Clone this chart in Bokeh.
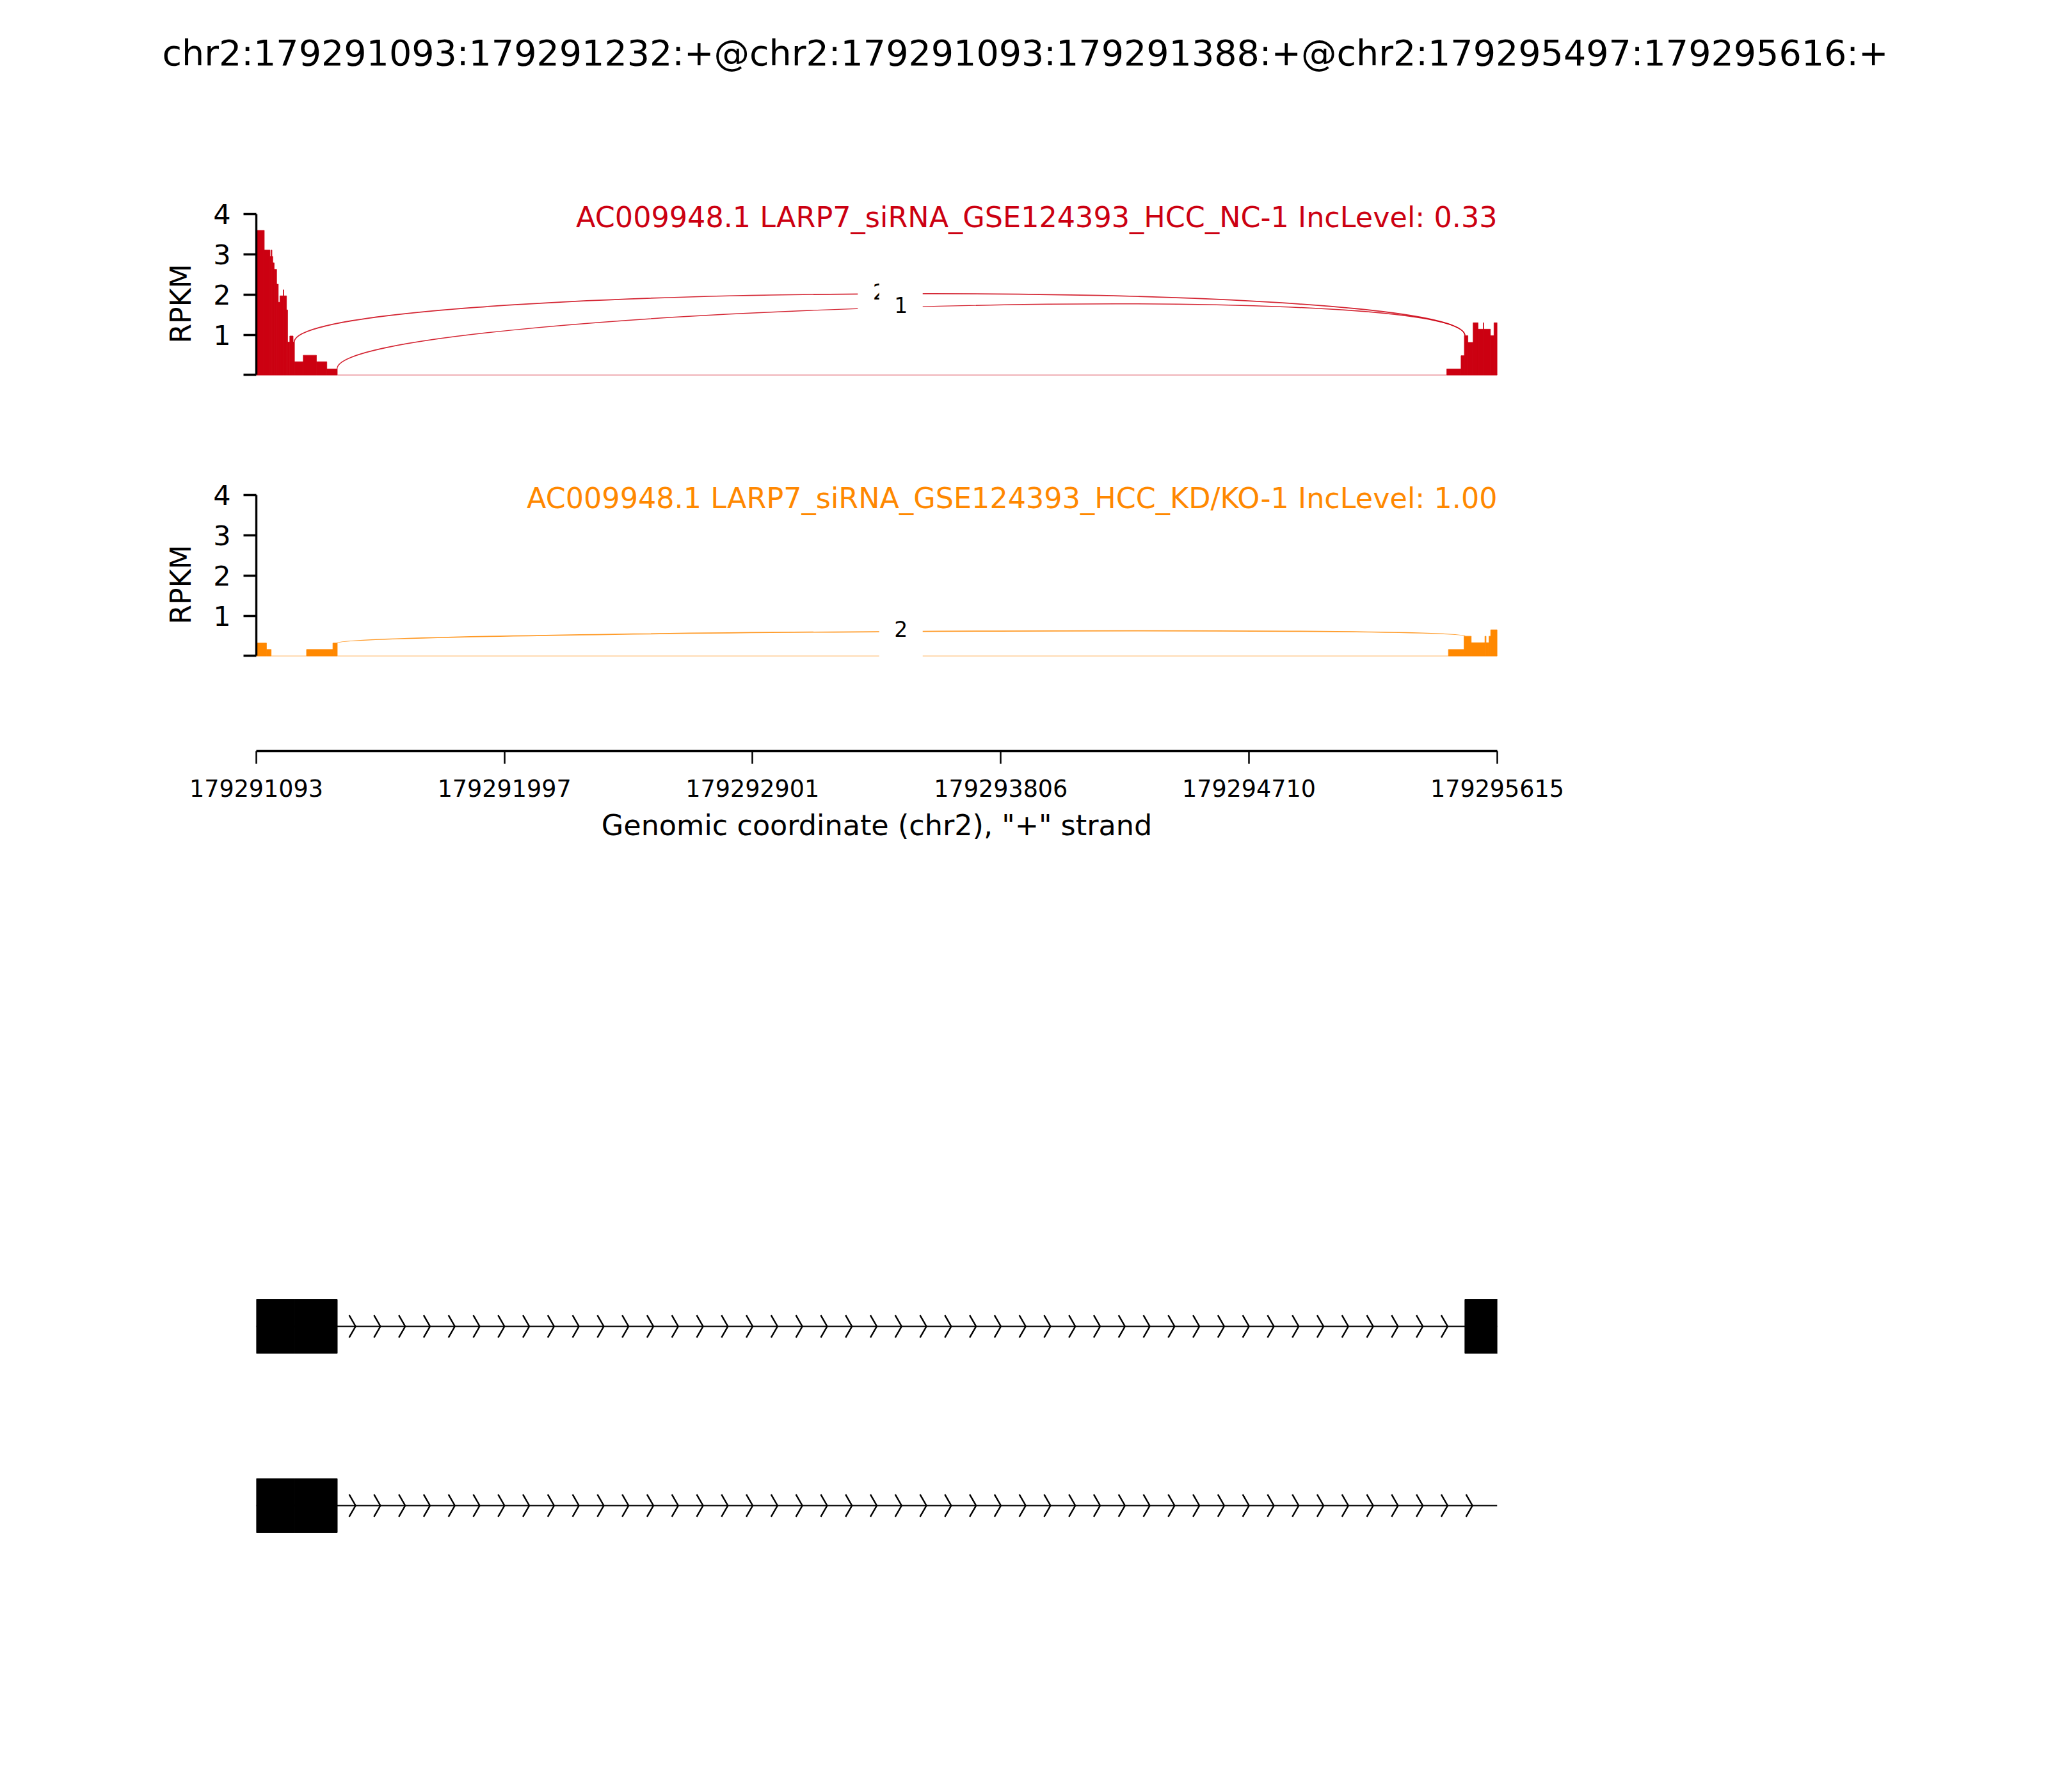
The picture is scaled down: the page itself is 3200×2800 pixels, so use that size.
import numpy as np
from bokeh.plotting import figure
from bokeh.models import Range1d, LinearAxis, FixedTicker, Label, NumeralTickFormatter, Title
from bokeh.layouts import column
from bokeh.embed import file_html
from bokeh.resources import INLINE
from bokeh.core.properties import value

FONT = "DejaVu Sans"
TOTAL_W = 3184

# ---------------- data ----------------
title_text = "chr2:179291093:179291232:+@chr2:179291093:179291388:+@chr2:179295497:179295616:+"
x_axis_label = 'Genomic coordinate (chr2), "+" strand'
region_start = 179291093
region_end = 179295615
x_tick_values = [179291093, 179291997, 179292901, 179293806, 179294710, 179295615]
y_tick_values = [0, 1, 2, 3, 4]
y_max = 4

sample_labels = [
    "AC009948.1 LARP7_siRNA_GSE124393_HCC_NC-1 IncLevel: 0.33",
    "AC009948.1 LARP7_siRNA_GSE124393_HCC_KD/KO-1 IncLevel: 1.00",
]
sample_colors = ["#CC0011", "#FF8800"]

# coverage bins: edges as offsets (bp) from region_start, RPKM per bin
nc_edges = [0, 29, 50, 54, 57, 60, 65, 74, 80, 86, 98, 100, 110, 114, 122, 134, 139, 171, 219, 257,
            295, 4338, 4390, 4402, 4415, 4434, 4452, 4471, 4473, 4497, 4510, 4522]
nc_rpkm = [3.60, 3.11, 2.95, 3.11, 2.95, 2.79, 2.63, 2.26, 1.81, 1.97, 2.12, 1.97, 1.62, 0.82, 0.97,
           0.82, 0.33, 0.49, 0.33, 0.15, 0.0, 0.15, 0.48, 0.98, 0.81, 1.30, 1.14, 1.30, 1.14, 0.98, 1.30]
kd_edges = [0, 37, 54, 183, 279, 295, 4344, 4401, 4427, 4477, 4481, 4492, 4498, 4522]
kd_rpkm = [0.32, 0.16, 0.0, 0.16, 0.32, 0.0, 0.16, 0.49, 0.33, 0.49, 0.33, 0.49, 0.65]

# junctions: (donor, acceptor, read count)
nc_junctions = [(179291232, 179295497, 2), (179291388, 179295497, 1)]
kd_junctions = [(179291388, 179295497, 2)]

# isoform exons (genomic)
iso_exon_starts = [[179291093, 179291232, 179295497], [179291093, 179291232]]
iso_exon_ends = [[179291232, 179291388, 179295616], [179291232, 179291388]]

LEFT_B = 400
RIGHT_B = TOTAL_W - LEFT_B - 1939


def cov_at(edges, vals, off):
    i = int(np.searchsorted(edges, off, side="right")) - 1
    if 0 <= i < len(vals):
        return vals[i]
    return 0.0


def blank_fig(height, top, bottom, x_range, y_range):
    p = figure(width=TOTAL_W, height=height, x_range=x_range, y_range=y_range,
               x_axis_type=None, y_axis_type=None, toolbar_location=None,
               output_backend="svg", min_border_left=LEFT_B, min_border_right=RIGHT_B,
               min_border_top=top, min_border_bottom=bottom, outline_line_color=None,
               background_fill_color="white", border_fill_color="white")
    return p


def style_axis(ax, tick_font, label_font):
    ax.axis_line_color = "black"
    ax.major_tick_line_color = "black"
    ax.axis_line_width = 3.4
    ax.major_tick_out = 20
    ax.major_tick_in = 0
    ax.minor_tick_out = 0
    ax.minor_tick_in = 0
    ax.major_label_text_font = FONT
    ax.major_label_text_font_size = tick_font
    ax.major_label_text_color = "black"
    ax.axis_label_text_font = FONT
    ax.axis_label_text_font_size = label_font
    ax.axis_label_text_font_style = "normal"
    ax.axis_label_text_color = "black"


def sashimi_panel(height, top, bottom, edges, rpkm, junctions, color, label):
    p = blank_fig(height, top, bottom, Range1d(region_start, region_end), Range1d(-0.95, 4.5))
    ax = LinearAxis(ticker=FixedTicker(ticks=y_tick_values), bounds=(0, y_max),
                    axis_label="RPKM", major_label_overrides={0: ""})
    style_axis(ax, "43px", "44px")
    ax.major_tick_line_width = 3.4
    ax.major_label_standoff = 20
    ax.axis_label_standoff = 22
    p.add_layout(ax, "left")

    e = np.array(edges, dtype=float) + region_start
    v = np.array(rpkm, dtype=float)
    # faint baseline (fill_between artefact)
    p.line([region_start, region_start + edges[-1]], [0, 0], line_color=color, line_alpha=0.3, line_width=2)
    m = v > 0
    p.quad(left=e[:-1][m], right=e[1:][m], bottom=0, top=v[m], fill_color=color,
           line_color=color, line_width=0.8)

    arc_h = 0.415 * max(rpkm)
    arcs = []
    for donor, acc, cnt in junctions:
        x1 = donor - 1
        x2 = acc
        y1 = cov_at(edges, rpkm, x1 - region_start)
        y2 = cov_at(edges, rpkm, x2 - region_start)
        lw = 1.0 + 0.7 * np.log10(cnt + 1) / np.log10(3)
        p.bezier(x0=[x1], y0=[y1], x1=[x2], y1=[y2], cx0=[x1], cy0=[y1 + arc_h],
                 cx1=[x2], cy1=[y2 + arc_h], line_color=color, line_width=lw, line_alpha=0.85)
        arcs.append(((x1 + x2) / 2, (y1 + y2) / 2 + 0.75 * arc_h, cnt))
    for xm, ym, cnt in arcs:
        p.rect(x=[xm], y=[ym], width=68, height=90, width_units="screen", height_units="screen",
               fill_color="white", line_color=None)
        p.text(x=[xm], y=[ym], text=[str(cnt)], text_align="center", text_baseline="middle",
               y_offset=-4, text_font=value(FONT), text_font_size="33px", text_color="black")

    p.add_layout(Label(x=region_end, y=3.92, text=label, text_align="right",
                       text_baseline="alphabetic", text_font=FONT, text_font_size="44.5px",
                       text_color=color))
    return p


# title figure (title drawn in the side panel so it is not clipped to the frame)
pt = blank_fig(208, 114, 0, Range1d(0, 1), Range1d(0, 1))
pt.add_layout(Title(text=title_text, align="left", offset=-147, standoff=0,
                    text_font=FONT, text_font_size="55.5px", text_font_style="normal",
                    text_color="black"), "above")

# panels: y(4) at page 334 / 773, 62.75 px per RPKM unit
p1 = sashimi_panel(492, 95, 55, nc_edges, nc_rpkm, nc_junctions, sample_colors[0], sample_labels[0])
p2 = sashimi_panel(400, 42, 16, kd_edges, kd_rpkm, kd_junctions, sample_colors[1], sample_labels[1])

# x axis figure
px = blank_fig(300, 60, 227, Range1d(region_start, region_end), Range1d(0, 1))
xa = LinearAxis(ticker=FixedTicker(ticks=x_tick_values), formatter=NumeralTickFormatter(format="0"),
                axis_label=x_axis_label)
style_axis(xa, "36.5px", "44.5px")
xa.major_tick_line_width = 2.5
xa.major_label_standoff = 24
xa.axis_label_standoff = 16
px.add_layout(xa, "below")

# gene structure figure
pg = blank_fig(1392, 532, 300, Range1d(region_start, region_end), Range1d(0.5, 2.5))
track_y = [2, 1]
n_chev = 50
span = region_end - region_start
chev_dx = 23.3
chev_dy = 0.062
for iso, ty in enumerate(track_y):
    pg.line([region_start, region_end], [ty, ty], line_color="black", line_width=2)
    xs, ys = [], []
    for j in range(1, n_chev):
        tip = region_start + j * span / n_chev
        xs.append([tip - chev_dx, tip, tip - chev_dx])
        ys.append([ty + chev_dy, ty, ty - chev_dy])
    pg.multi_line(xs, ys, line_color="black", line_width=2.5)
    pg.quad(left=iso_exon_starts[iso], right=iso_exon_ends[iso], bottom=ty - 0.15, top=ty + 0.15,
            fill_color="black", line_color="black", line_width=1)

layout = column(pt, p1, p2, px, pg, spacing=0)
open("out.html", "w").write(file_html(layout, INLINE))
